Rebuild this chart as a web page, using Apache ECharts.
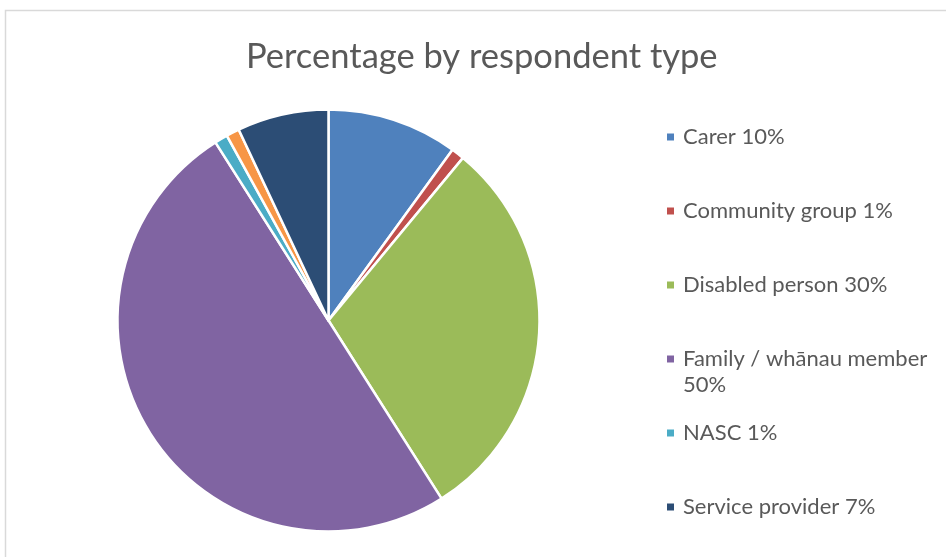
<!DOCTYPE html>
<html>
<head>
<meta charset="utf-8">
<script src="https://cdn.jsdelivr.net/npm/echarts@6/dist/echarts.min.js"></script>
<style>
  html, body { margin: 0; padding: 0; background: #fff; }
  #chart { width: 946px; height: 557px; }
</style>
</head>
<body>
<div id="chart"></div>
<script>
// Respondent types and their share of responses (%)
const categories = ['Carer', 'Community group', 'Disabled person', 'Family / wh\u0101nau member', 'NASC', 'Other', 'Service provider'];
const percentages = [10, 1, 30, 50, 1, 1, 7];
const colors = ['#4F81BD', '#C0504D', '#9BBB59', '#8064A2', '#4BACC6', '#F79646', '#2C4D75'];
// Entries shown in the legend (the "Other" slice has no legend entry)
const legendNames = ['Carer', 'Community group', 'Disabled person', 'Family / wh\u0101nau member', 'NASC', 'Service provider'];

const textColor = '#595959';
const fontFamily = 'Lato, "Open Sans", sans-serif';
const lineH = 26;

const pieData = categories.map((name, i) => ({
  name: name,
  value: percentages[i],
  itemStyle: { color: colors[i] }
}));

const pctOf = name => percentages[categories.indexOf(name)];

// One legend block per entry so the spacing follows the original layout.
// A long entry wraps onto a second line; a leading blank line keeps the
// marker level with the first line of text.
const legends = legendNames.map((name, i) => {
  const wraps = name.length > 20;
  const centerY = 137 + i * 74;
  return {
    data: [name],
    left: 665,
    top: wraps ? centerY - lineH * 1.5 : centerY - lineH / 2,
    padding: 0,
    orient: 'vertical',
    icon: 'rect',
    itemWidth: 9,
    itemHeight: 9,
    itemGap: 0,
    selectedMode: false,
    formatter: n => wraps ? '\n' + n + '\n' + pctOf(n) + '%' : n + ' ' + pctOf(n) + '%',
    textStyle: {
      color: textColor,
      fontFamily: fontFamily,
      fontSize: 22,
      lineHeight: lineH,
      padding: [0, 0, 0, 3]
    }
  };
});

const chart = echarts.init(document.getElementById('chart'), null, { renderer: 'canvas' });
chart.setOption({
  backgroundColor: '#ffffff',
  animation: false,
  title: {
    text: 'Percentage by respondent type',
    left: 246,
    top: 39,
    padding: 0,
    textStyle: {
      color: textColor,
      fontFamily: fontFamily,
      fontSize: 34.5,
      fontWeight: 'normal'
    }
  },
  graphic: [{
    type: 'rect',
    silent: true,
    shape: { x: 5.5, y: 10.5, width: 1200, height: 1200 },
    style: { fill: null, stroke: '#d9d9d9', lineWidth: 1.5 }
  }],
  legend: legends,
  series: [{
    type: 'pie',
    center: [328.5, 320.5],
    radius: 211,
    startAngle: 90,
    clockwise: true,
    label: { show: false },
    labelLine: { show: false },
    emphasis: { disabled: true },
    itemStyle: { borderColor: '#ffffff', borderWidth: 2.5 },
    data: pieData
  }]
});
</script>
</body>
</html>
